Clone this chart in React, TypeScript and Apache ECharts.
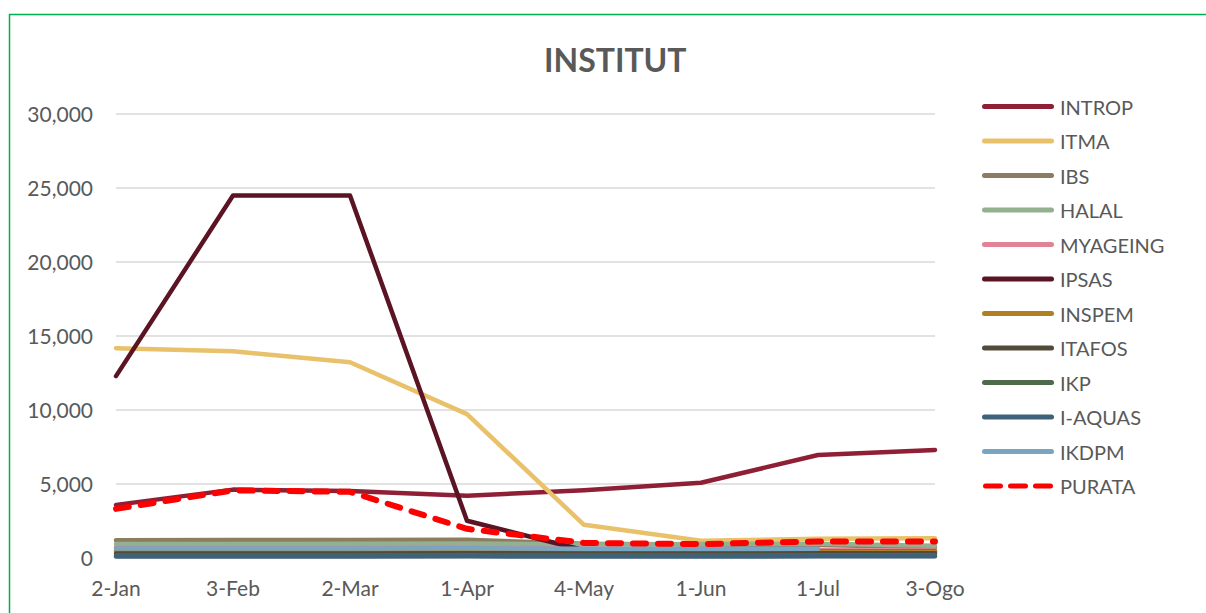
import React, { useEffect, useRef } from "react";
import * as echarts from "echarts";

const categories = ["2-Jan", "3-Feb", "2-Mar", "1-Apr", "4-May", "1-Jun", "1-Jul", "3-Ogo"];

const INTROP = [3570, 4600, 4500, 4180, 4560, 5060, 6940, 7280];
const ITMA = [14150, 13950, 13210, 9700, 2220, 1150, 1280, 1320];
const IBS = [1180, 1190, 1190, 1210, 950, 900, 850, 700];
const HALAL = [930, 930, 940, 960, 900, 930, 950, 800];
const MYAGEING = [700, 700, 700, 720, 600, 550, 500, 490];
const IPSAS = [12270, 24470, 24480, 2500, 500, 400, 400, 400];
const INSPEM = [450, 450, 450, 460, 420, 420, 400, 380];
const ITAFOS = [280, 280, 290, 300, 280, 280, 300, 300];
const IKP = [150, 150, 150, 160, 150, 150, 160, 160];
const IAQUAS = [80, 80, 80, 90, 80, 80, 90, 100];
const IKDPM = [620, 620, 620, 640, 600, 600, 600, null];
const PURATA = [3300, 4550, 4450, 1950, 1000, 920, 1100, 1100];

const seriesNames = ["INTROP", "ITMA", "IBS", "HALAL", "MYAGEING", "IPSAS", "INSPEM", "ITAFOS", "IKP", "I-AQUAS", "IKDPM", "PURATA"];
const seriesData = [INTROP, ITMA, IBS, HALAL, MYAGEING, IPSAS, INSPEM, ITAFOS, IKP, IAQUAS, IKDPM, PURATA];
const seriesColors = ["#8E1F35", "#E8C16A", "#8C7C60", "#93B090", "#E08396", "#5A1423", "#B08022", "#544A3A", "#4D6A4B", "#3F627B", "#78A5C0", "#FF0000"];

const FONT = "Lato";
const TEXT = "#595959";
const SOLID_ICON = "path://M2.5,0 H69.5 A2.5,2.5 0 0 1 69.5,5 H2.5 A2.5,2.5 0 0 1 2.5,0 Z";
const DASH_ICON =
  "path://M2.5,0 H17.5 A2.5,2.5 0 0 1 17.5,5 H2.5 A2.5,2.5 0 0 1 2.5,0 Z M27.5,0 H42.5 A2.5,2.5 0 0 1 42.5,5 H27.5 A2.5,2.5 0 0 1 27.5,0 Z M52.5,0 H67.5 A2.5,2.5 0 0 1 67.5,5 H52.5 A2.5,2.5 0 0 1 52.5,0 Z";

export default function App() {
  const ref = useRef<HTMLDivElement>(null);
  useEffect(() => {
    if (!ref.current) return;
    const chart = echarts.init(ref.current, null, { renderer: "svg" });
    const series = seriesNames.map((name, i) => {
      const isAvg = name === "PURATA";
      return {
        name,
        type: "line",
        data: seriesData[i],
        symbol: "none",
        z: 2 + i,
        connectNulls: false,
        lineStyle: {
          color: seriesColors[i],
          width: isAvg ? 6 : 4.5,
          type: isAvg ? [13, 12] : "solid",
          cap: "round",
          join: "round",
        },
        itemStyle: { color: seriesColors[i] },
      };
    });
    chart.setOption({
      animation: false,
      textStyle: { fontFamily: FONT },
      title: {
        text: "INSTITUT",
        left: 539,
        top: 38,
        textStyle: { fontFamily: FONT, fontSize: 32, fontWeight: "bold", color: TEXT },
      },
      grid: { left: 116, right: 271, top: 113.7, bottom: 55.3, containLabel: false },
      legend: {
        orient: "vertical",
        left: 982,
        top: 96.5,
        padding: 0,
        itemWidth: 72,
        itemHeight: 5,
        itemGap: 14.5,
        textStyle: { fontFamily: FONT, fontSize: 20, color: TEXT, padding: [0, 0, 0, 1] },
        data: seriesNames.map((n) => ({ name: n, icon: n === "PURATA" ? DASH_ICON : SOLID_ICON })),
      },
      xAxis: {
        type: "category",
        data: categories,
        boundaryGap: false,
        axisTick: { show: false },
        axisLine: { lineStyle: { color: "#D9D9D9", width: 1 } },
        axisLabel: { fontFamily: FONT, fontSize: 21, color: TEXT, margin: 19 },
      },
      yAxis: {
        type: "value",
        min: 0,
        max: 30000,
        interval: 5000,
        axisLine: { show: false },
        axisTick: { show: false },
        splitLine: { lineStyle: { color: "#D9D9D9", width: 1.5 } },
        axisLabel: {
          fontFamily: FONT,
          fontSize: 21,
          color: TEXT,
          margin: 23,
          formatter: (v: number) => v.toLocaleString("en-US"),
        },
      },
      graphic: [
        {
          type: "rect",
          shape: { x: 9.5, y: 14.5, width: 1215, height: 620 },
          style: { fill: "none", stroke: "#00B050", lineWidth: 1.5 },
          silent: true,
        },
      ],
      series,
    });
    return () => chart.dispose();
  }, []);
  return (
    <div
      ref={ref}
      style={{ position: "fixed", left: 0, top: 0, width: 1206, height: 613, background: "#fff" }}
    />
  );
}
